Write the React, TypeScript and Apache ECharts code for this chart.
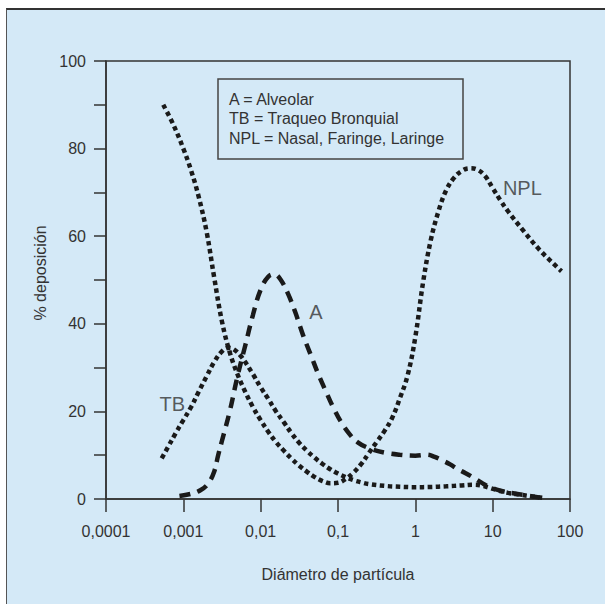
import React, { useEffect, useRef } from "react";
import * as echarts from "echarts";

// ---- data (x = particle diameter, y = % deposition) ----
const xTickLabels = ["0,0001", "0,001", "0,01", "0,1", "1", "10", "100"];
const yTicks = [0, 20, 40, 60, 80, 100];

const seriesA: [number, number][] = [
  [0.000891, 0.7], [0.00126, 1.2], [0.00166, 2], [0.00209, 3.5], [0.00251, 6.3],
  [0.00282, 10], [0.00316, 13.3], [0.00398, 20], [0.00501, 28], [0.00631, 35],
  [0.00794, 42], [0.01, 47.8], [0.0126, 50.8], [0.0151, 51.3], [0.0178, 50.3],
  [0.0224, 47], [0.0282, 42.5], [0.0355, 37.3], [0.0447, 32.8], [0.0562, 28.3],
  [0.0708, 24.3], [0.0891, 20.5], [0.112, 17.3], [0.141, 14.8], [0.178, 13],
  [0.251, 11.6], [0.398, 10.6], [0.631, 10.1], [1, 9.9], [1.41, 10.1], [1.78, 9.6],
  [2.24, 8.8], [2.82, 7.9], [3.55, 6.8], [4.47, 5.9], [5.62, 4.9], [7.08, 3.8],
  [8.91, 2.8], [12.6, 1.9], [20, 1.2], [28.2, 0.8], [39.8, 0.35],
];

const seriesTB: [number, number][] = [
  [0.000525, 9.3], [0.000631, 11.8], [0.000794, 15], [0.001, 18], [0.00126, 21],
  [0.00158, 24.5], [0.002, 28], [0.00251, 31.3], [0.00316, 33.7], [0.0038, 34.5],
  [0.00447, 34.2], [0.00562, 32.5], [0.00794, 28.5], [0.01, 25.5], [0.0126, 22.8],
  [0.0158, 20], [0.02, 17.5], [0.0251, 15], [0.0316, 12.8], [0.0398, 11],
  [0.0501, 9.4], [0.0631, 8], [0.0794, 6.8], [0.1, 5.8], [0.126, 5.0], [0.158, 4.3],
  [0.2, 3.8], [0.251, 3.4], [0.398, 3.0], [0.631, 2.8], [1, 2.7], [1.58, 2.75],
  [2.51, 2.9], [3.98, 3.1], [5.62, 3.25], [7.08, 3.1], [8.91, 2.6], [11.2, 2.05],
  [15.8, 1.4], [22.4, 1.0], [31.6, 0.6], [43.7, 0.3],
];

const seriesNPL: [number, number][] = [
  [0.00055, 90], [0.000741, 85.5], [0.001, 80], [0.00126, 75], [0.00158, 69],
  [0.002, 61], [0.00251, 50.5], [0.00316, 40.5], [0.00398, 33.5], [0.00501, 28.5],
  [0.00631, 24.5], [0.00794, 21], [0.01, 18], [0.0126, 15.3], [0.0158, 13],
  [0.02, 11], [0.0251, 9.2], [0.0316, 7.6], [0.0398, 6.2], [0.0501, 5.0],
  [0.0631, 4.1], [0.0794, 3.6], [0.1, 3.7], [0.126, 4.6], [0.158, 6], [0.2, 8],
  [0.251, 10.5], [0.316, 13], [0.398, 15.5], [0.501, 18.5], [0.631, 23], [0.794, 28.2],
  [1, 37], [1.26, 49.5], [1.58, 59], [2.0, 65.8], [2.51, 70.5], [3.16, 73.3],
  [3.98, 74.9], [5.01, 75.5], [6.31, 75.2], [7.94, 73.8], [10, 71], [12.6, 68.2],
  [15.8, 65.7], [25.1, 61.2], [39.8, 57], [63.1, 53.5], [77.6, 52],
];

const curveLabels: { text: string; x: number; y: number }[] = [
  { text: "A", x: 0.052, y: 42.8 },
  { text: "TB", x: 0.00072, y: 21.8 },
  { text: "NPL", x: 24.2, y: 70.9 },
];

const legendLines = ["A = Alveolar", "TB = Traqueo Bronquial", "NPL = Nasal, Faringe, Laringe"];

const FONT = "'Liberation Sans', Arial, Helvetica, sans-serif";
const TXT = "#333333";
const INK = "#1a1a1a";
const BG = "#d4e9f7";

export default function App() {
  const ref = useRef<HTMLDivElement>(null);

  useEffect(() => {
    if (!ref.current) return;
    const chart = echarts.init(ref.current, null, { renderer: "svg" });

    const lineSeries = (name: string, data: [number, number][], dash: number[]) => ({
      name,
      type: "line",
      data,
      symbol: "none",
      smooth: 0.4,
      lineStyle: { color: INK, width: 4.5, type: dash, cap: "butt" },
      z: 3,
    });

    chart.setOption({
      animation: false,
      backgroundColor: "transparent",
      textStyle: { fontFamily: FONT },
      grid: {
        left: 106,
        top: 61,
        right: 35,
        bottom: 105,
        show: true,
        borderColor: "#333",
        borderWidth: 1.5,
        backgroundColor: "transparent",
        containLabel: false,
      },
      xAxis: {
        type: "log",
        logBase: 10,
        min: 0.0001,
        max: 100,
        splitNumber: 6,
        name: "Diámetro de partícula",
        nameLocation: "middle",
        nameGap: 67,
        nameTextStyle: { fontSize: 16, color: TXT, fontFamily: FONT },
        axisLine: { show: true, lineStyle: { color: "#333", width: 1.5 } },
        axisTick: { show: true, inside: false, length: 13, lineStyle: { color: "#333", width: 1.5 } },
        minorTick: { show: false },
        splitLine: { show: false },
        axisLabel: {
          fontSize: 16,
          color: TXT,
          margin: 24,
          fontFamily: FONT,
          formatter: (v: number) => {
            const i = Math.round(Math.log10(v)) + 4;
            return xTickLabels[i] ?? "";
          },
        },
      },
      yAxis: {
        type: "value",
        min: yTicks[0],
        max: yTicks[yTicks.length - 1],
        interval: 20,
        name: "% deposición",
        nameLocation: "middle",
        nameGap: 56,
        nameTextStyle: { fontSize: 16, color: TXT, fontFamily: FONT, padding: [0, 0, 0, 14] },
        axisLine: { show: true, lineStyle: { color: "#333", width: 1.5 } },
        axisTick: { show: true, inside: false, length: 12, lineStyle: { color: "#333", width: 1.5 } },
        minorTick: { show: true, splitNumber: 2, length: 12, lineStyle: { color: "#333", width: 1.5 } },
        splitLine: { show: false },
        axisLabel: { fontSize: 16, color: TXT, margin: 20, fontFamily: FONT },
      },
      series: [
        lineSeries("NPL", seriesNPL, [4.5, 3.5]),
        lineSeries("TB", seriesTB, [4.5, 3.5]),
        lineSeries("A", seriesA, [11, 7.5]),
        {
          type: "scatter",
          symbolSize: 1,
          itemStyle: { color: "transparent" },
          data: curveLabels.map((c) => ({ value: [c.x, c.y], name: c.text })),
          label: {
            show: true,
            position: "inside",
            formatter: (p: any) => p.name,
            fontSize: 20,
            color: TXT,
            fontFamily: FONT,
          },
          z: 4,
        },
      ],
      graphic: {
        elements: [
          {
            type: "rect",
            shape: { x: 218, y: 79, width: 245, height: 80 },
            style: { fill: BG, stroke: "#444", lineWidth: 1.5 },
            z: 10,
          },
          ...legendLines.map((t, i) => ({
            type: "text",
            x: 229,
            y: 99.3 + i * 19.5,
            style: {
              text: t,
              fontSize: 16,
              fontFamily: FONT,
              fill: TXT,
              verticalAlign: "middle",
            },
            z: 11,
          })),
        ],
      },
    });

    return () => chart.dispose();
  }, []);

  return (
    <div style={{ position: "fixed", left: 0, top: 0, width: 605, height: 604, background: "#ffffff" }}>
      <div
        style={{
          position: "absolute",
          left: 6,
          top: 8,
          right: 0,
          bottom: 0,
          background: BG,
          borderTop: "2px solid #333",
          borderLeft: "1.5px solid #555",
        }}
      />
      <div ref={ref} style={{ position: "absolute", left: 0, top: 0, width: 605, height: 604 }} />
    </div>
  );
}
